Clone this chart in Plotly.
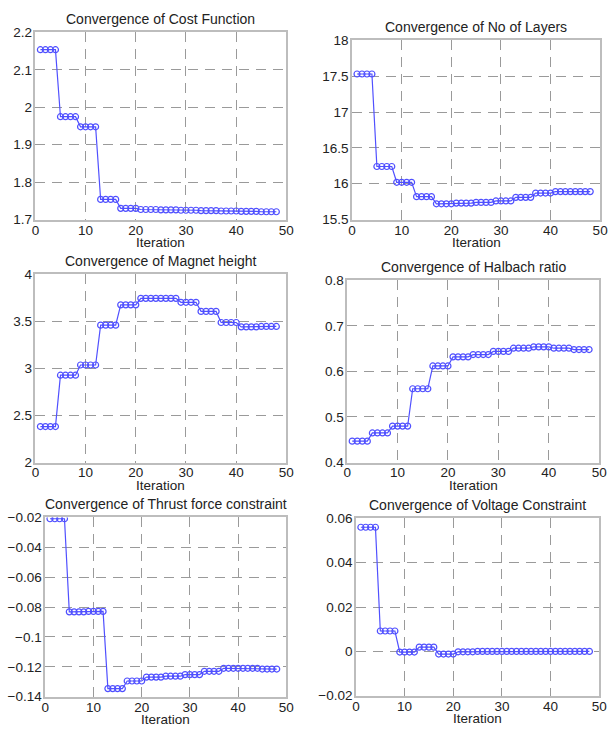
import plotly.graph_objects as go

iterations = list(range(1, 49))

def steps(vals):
    out = []
    for v in vals:
        out += [v] * 4
    return out

cost_function = steps([2.154, 1.975, 1.948, 1.754, 1.730, 1.727, 1.726, 1.725, 1.724, 1.723, 1.722, 1.721])
no_of_layers = steps([17.53, 16.24, 16.02, 15.82, 15.72, 15.73, 15.74, 15.76, 15.81, 15.87, 15.89, 15.89])
magnet_height = steps([2.383, 2.929, 3.037, 3.461, 3.677, 3.746, 3.746, 3.704, 3.607, 3.489, 3.443, 3.447])
halbach_ratio = steps([0.447, 0.465, 0.480, 0.562, 0.612, 0.632, 0.637, 0.644, 0.651, 0.654, 0.651, 0.648])
thrust_constraint = steps([-0.0209, -0.0832, -0.0829, -0.1346, -0.1295, -0.1269, -0.1263, -0.1252, -0.1230, -0.1210, -0.1210, -0.1215])
voltage_constraint = steps([0.056, 0.0092, -0.0003, 0.0019, -0.0012, -0.0002, 0.0, 0.0, 0.0, 0.0, 0.0, 0.0])

titles = ["Convergence of Cost Function", "Convergence of No of Layers",
          "Convergence of Magnet height", "Convergence of Halbach ratio",
          "Convergence of Thrust force constraint", "Convergence of Voltage Constraint"]
series = [cost_function, no_of_layers, magnet_height, halbach_ratio, thrust_constraint, voltage_constraint]
y_ranges = [[1.7, 2.2], [15.5, 18], [2, 4], [0.4, 0.8], [-0.14, -0.02], [-0.02, 0.06]]
y_dticks = [0.1, 0.5, 0.5, 0.1, 0.02, 0.02]
x_ticks = [0, 10, 20, 30, 40, 50]
x_title = "Iteration"

W, H = 615, 738
# plot-area boxes in pixels: (left, right, top, bottom)
boxes = [(32, 288, 26, 217), (355, 608, 34, 217),
         (32, 288, 273, 465), (350, 607, 279, 465),
         (42, 288, 521, 704), (359, 607, 522, 703)]

FONT = "Liberation Sans, Arial, Helvetica, sans-serif"
TXT = "#222222"
BLUE = "rgb(80,80,255)"

fig = go.Figure()
annotations = []
for i, (ys, box) in enumerate(zip(series, boxes)):
    n = i + 1
    xa = "x" if n == 1 else f"x{n}"
    ya = "y" if n == 1 else f"y{n}"
    l, r, t, b = box
    fig.add_trace(go.Scatter(
        x=iterations, y=ys, mode="lines+markers", xaxis=xa, yaxis=ya,
        line=dict(color=BLUE, width=1.2),
        marker=dict(symbol="circle-open", size=6, color=BLUE, line=dict(width=1.2)),
        showlegend=False, hoverinfo="x+y"))
    axis_common = dict(
        showline=True, mirror=True, linecolor="#bdbdbd", linewidth=1.5,
        showgrid=True, gridcolor="#9a9a9a", griddash="10px,7px", gridwidth=1,
        zeroline=False, ticks="", tickfont=dict(family=FONT, size=13.5, color=TXT),
    )
    fig.update_layout(**{
        ("xaxis" if n == 1 else f"xaxis{n}"): dict(
            domain=[l / W, r / W], range=[0, 50], tickvals=x_ticks,
            anchor=ya, ticklabelstandoff=-3, **axis_common),
        ("yaxis" if n == 1 else f"yaxis{n}"): dict(
            domain=[1 - b / H, 1 - t / H], range=y_ranges[i], dtick=y_dticks[i],
            tick0=y_ranges[i][0], anchor=xa, ticklabelstandoff=-1,
            **axis_common),
    })
    annotations.append(dict(
        text=titles[i], xref="paper", yref="paper", x=(l + r) / 2 / W,
        y=1 - (t - 14) / H, xanchor="center", yanchor="middle", showarrow=False,
        font=dict(family=FONT, size=14, color=TXT)))
    annotations.append(dict(
        text=x_title, xref="paper", yref="paper", x=(l + r) / 2 / W,
        y=1 - (b + 23) / H, xanchor="center", yanchor="middle", showarrow=False,
        font=dict(family=FONT, size=13.5, color=TXT)))

fig.update_layout(
    width=W, height=H, margin=dict(l=0, r=0, t=0, b=0),
    paper_bgcolor="white", plot_bgcolor="white",
    annotations=annotations, font=dict(family=FONT, color=TXT),
)
fig.write_html("out.html", config={"displayModeBar": False},
               post_script="document.body.style.margin='0';")
